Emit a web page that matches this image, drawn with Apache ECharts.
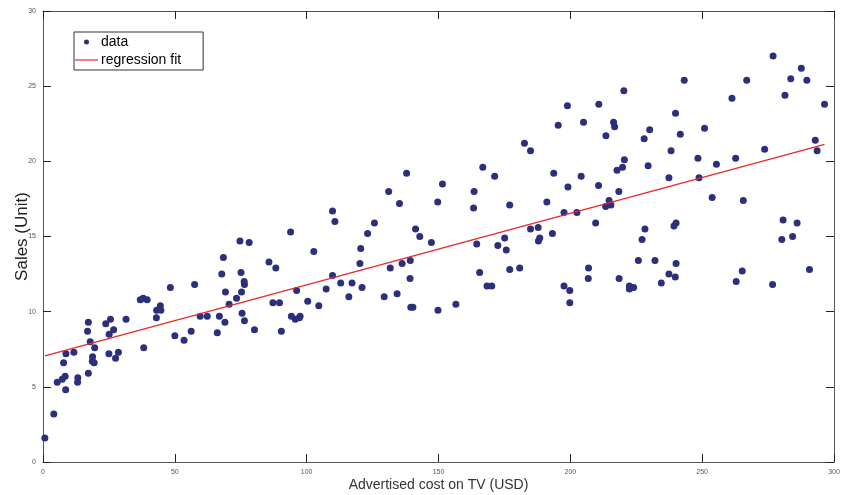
<!DOCTYPE html>
<html>
<head>
<meta charset="utf-8">
<script src="https://cdn.jsdelivr.net/npm/echarts@6/dist/echarts.min.js"></script>
<style>html,body{margin:0;padding:0;background:#fff}#c{width:841px;height:495px}</style>
</head>
<body>
<div id="c"></div>
<script>
const tv = [230.1,44.5,17.2,151.5,180.8,8.7,57.5,120.2,8.6,199.8,66.1,214.7,23.8,97.5,204.1,195.4,67.8,281.4,69.2,147.3,218.4,237.4,13.2,228.3,62.3,262.9,142.9,240.1,248.8,70.6,292.9,112.9,97.2,265.6,95.7,290.7,266.9,74.7,43.1,228,202.5,177,293.6,206.9,25.1,175.1,89.7,239.9,227.2,66.9,199.8,100.4,216.4,182.6,262.7,198.9,7.3,136.2,210.8,210.7,53.5,261.3,239.3,102.7,131.1,69,31.5,139.3,237.4,216.8,199.1,109.8,26.8,129.4,213.4,16.9,27.5,120.5,5.4,116,76.4,239.8,75.3,68.4,213.5,193.2,76.3,110.7,88.3,109.8,134.3,28.6,217.7,250.9,107.4,163.3,197.6,184.9,289.7,135.2,222.4,296.4,280.2,187.9,238.2,137.9,25,90.4,13.1,255.4,225.8,241.7,175.7,209.6,78.2,75.1,139.2,76.4,125.7,19.4,141.3,18.8,224,123.1,229.5,87.2,7.8,80.2,220.3,59.6,0.7,265.2,8.4,219.8,36.9,48.3,25.6,273.7,43,184.9,73.4,193.7,220.5,104.6,96.2,140.3,240.1,243.2,38,44.7,280.7,121,197.6,171.3,187.8,4.1,93.9,149.8,11.7,131.7,172.5,85.7,188.4,163.5,117.2,234.5,17.9,206.8,215.4,284.3,50,164.5,19.6,168.4,222.4,276.9,248.4,170.2,276.7,165.6,156.6,218.5,56.2,287.6,253.8,205,139.5,191.1,286,18.7,39.5,75.5,17.2,166.8,149.7,38.2,94.2,177,283.6,232.1];
const sales = [22.1,10.4,9.3,18.5,12.9,7.2,11.8,13.2,4.8,10.6,8.6,17.4,9.2,9.7,19,22.4,12.5,24.4,11.3,14.6,18,12.5,5.6,15.5,9.7,12,15,15.9,18.9,10.5,21.4,11.9,9.6,17.4,9.5,12.8,25.4,14.7,10.1,21.5,16.6,17.1,20.7,12.9,8.5,14.9,10.6,23.2,14.8,9.7,11.4,10.7,22.6,21.2,20.2,23.7,5.5,13.2,23.8,18.4,8.1,24.2,15.7,14,18,9.3,9.5,13.4,18.9,22.3,18.3,12.4,8.8,11,17,8.7,6.9,14.2,5.3,11,11.8,12.3,11.3,13.6,21.7,15.2,12,16,12.9,16.7,11.2,7.3,19.4,22.2,11.5,16.9,11.7,15.5,25.4,17.2,11.7,23.8,14.8,14.7,20.7,19.2,7.2,8.7,5.3,19.8,13.4,21.8,14.1,15.9,14.6,12.6,12.2,9.4,15.9,6.6,15.5,7,11.6,15.2,19.7,10.6,6.6,8.8,24.7,9.7,1.6,12.7,5.7,19.6,10.8,11.6,9.5,20.8,9.6,20.7,10.9,19.2,20.1,10.4,11.4,10.3,13.2,25.4,10.9,10.1,16.1,11.6,16.6,19,15.6,3.2,15.3,10.1,7.3,12.9,14.4,13.3,14.9,18,11.9,11.9,8,12.2,17.1,15,8.4,14.5,7.6,11.7,11.5,27,20.2,11.7,11.8,12.6,10.5,12.2,8.7,26.2,17.6,22.6,10.3,17.3,15.9,6.7,10.8,9.9,5.9,19.6,17.3,7.6,9.7,12.8,25.5,13.4];
const fitX = [0.7, 296.4];
const fitY = [7.066, 21.123];
const xTicks = [0,50,100,150,200,250,300];
const yTicks = [0,5,10,15,20,25,30];

const points = tv.map((x,i)=>[x, sales[i]]);
const fit = fitX.map((x,i)=>[x, fitY[i]]);

const axisCol = '#555';
const ax = (extra) => Object.assign({
  type:'value', min:0, interval:5,
  axisLine:{show:true, onZero:false, lineStyle:{color:axisCol, width:1}},
  axisTick:{show:true, inside:true, length:8, lineStyle:{color:'#222'}},
  splitLine:{show:false},
  axisLabel:{color:'#555', fontSize:7, fontFamily:'Liberation Sans', margin:7}
}, extra);

const chart = echarts.init(document.getElementById('c'));
chart.setOption({
  animation:false,
  backgroundColor:'#fff',
  grid:{left:43, right:7, top:11, bottom:33, containLabel:false, outerBoundsMode:'none'},
  legend:{
    orient:'vertical', left:74, top:32,
    padding:[3,22,3,1], itemGap:4, itemWidth:23, itemHeight:14,
    borderColor:'#333', borderWidth:1,
    textStyle:{color:'#000', fontSize:14, fontFamily:'Liberation Sans', padding:[0,0,0,-2]},
    data:[
      {name:'data', icon:'path://M0 0M23 14M11.5 4.5A2.5 2.5 0 1 1 11.5 9.5A2.5 2.5 0 1 1 11.5 4.5Z'},
      {name:'regression fit', icon:'path://M0 0M23 14M0 6.4L23 6.4L23 7.6L0 7.6Z'}
    ]
  },
  xAxis:[
    ax({max:300, interval:50, position:'bottom', name:'Advertised cost on TV (USD)', nameLocation:'middle', nameGap:16,
       nameMoveOverlap:false,
       nameTextStyle:{color:'#333', fontSize:14, fontFamily:'Liberation Sans'}}),
    ax({max:300, interval:50, position:'top', axisLabel:{show:false}})
  ],
  yAxis:[
    ax({max:30, position:'left', name:'Sales (Unit)', nameLocation:'middle', nameGap:12,
       nameMoveOverlap:false,
       nameTextStyle:{color:'#222', fontSize:17, fontFamily:'Liberation Sans'}}),
    ax({max:30, position:'right', axisLabel:{show:false}})
  ],
  series:[
    {name:'data', type:'scatter', data:points, symbolSize:7,
     itemStyle:{color:'#2c2f7c', opacity:1}},
    {name:'regression fit', type:'line', data:fit, symbol:'none',
     lineStyle:{color:'#e8282b', width:1.3}, itemStyle:{color:'#e8282b'}}
  ]
});
</script>
</body>
</html>
